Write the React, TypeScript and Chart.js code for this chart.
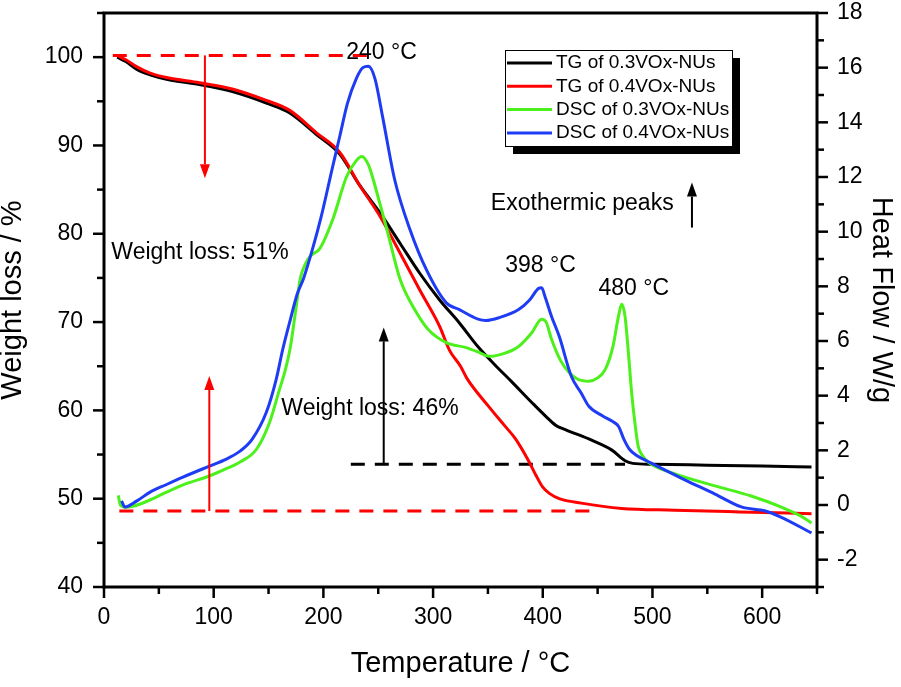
import React, { useEffect, useRef } from 'react';
import { Chart, registerables } from 'chart.js';

Chart.register(...registerables);

const FONT = "'Liberation Sans', Arial, Helvetica, sans-serif";

// ---------- series data (Temperature °C, value) ----------
const tgBlackT = [12, 20, 30, 42, 57, 87, 117, 148, 169, 194, 215, 233, 252, 270, 288, 306, 324, 341, 356, 372, 390, 403, 412, 421, 445, 463, 475, 482, 500, 550, 600, 645];
const tgBlackW = [100.0, 99.5, 98.6, 98.0, 97.5, 96.9, 96.1, 94.8, 93.7, 91.2, 89.0, 85.5, 82.3, 78.9, 75.5, 72.5, 69.9, 67.2, 65.2, 63.2, 60.9, 59.3, 58.3, 57.8, 56.6, 55.5, 54.3, 54.0, 53.9, 53.8, 53.7, 53.6];

const tgRedT = [12, 20, 30, 42, 57, 87, 117, 148, 169, 194, 215, 233, 252, 270, 288, 306, 315, 325, 331, 351, 365, 375, 387, 394, 400, 406, 415, 435, 472, 520, 580, 645];
const tgRedW = [100.2, 99.7, 98.9, 98.2, 97.7, 97.1, 96.4, 95.1, 94.0, 91.4, 89.2, 85.5, 81.9, 77.8, 73.6, 69.5, 66.8, 65.0, 63.6, 60.4, 58.3, 56.8, 54.3, 52.6, 51.3, 50.6, 50.0, 49.5, 48.9, 48.7, 48.5, 48.3];

const dscGreenT = [13, 15, 20, 26, 40, 57, 75, 96, 110, 124, 139, 151, 160, 165, 170, 175, 179, 184, 188, 197, 209, 221, 230, 235, 241, 245.5, 251, 258, 270, 285, 296, 312, 330, 341, 351, 365, 378, 390, 399, 403, 408, 416, 424, 432, 442, 450, 457, 464, 469, 472, 475, 478, 481, 484, 487, 491, 496, 520, 557, 590, 617, 635, 645];
const dscGreenH = [0.35, 0.0, -0.08, -0.05, 0.15, 0.47, 0.78, 1.06, 1.3, 1.57, 2.04, 3.03, 4.23, 4.9, 5.8, 7.2, 8.3, 8.85, 9.1, 9.4, 10.5, 12.0, 12.6, 12.75, 12.45, 11.9, 11.1, 10.07, 8.25, 7.03, 6.4, 5.94, 5.76, 5.6, 5.44, 5.55, 5.8, 6.3, 6.8, 6.7, 6.06, 5.3, 4.85, 4.6, 4.53, 4.65, 4.96, 5.8, 6.9, 7.34, 6.9, 5.6, 4.12, 3.0, 2.15, 1.8, 1.57, 1.15, 0.7, 0.33, -0.07, -0.4, -0.66];

const dscBlueT = [16, 19, 30, 42, 57, 72, 96, 110, 124, 135, 148, 157, 163, 170, 176, 182, 190, 198, 208, 215, 222, 230, 236, 241, 247, 254, 265, 279, 294, 312, 324, 341, 348, 360, 378, 388, 396, 399, 402, 408, 415, 426, 435, 442, 455, 463, 469, 474, 479, 486, 498, 528, 557, 581, 603, 617, 645];
const dscBlueH = [0.15, -0.07, 0.15, 0.47, 0.75, 1.02, 1.42, 1.65, 1.97, 2.4, 3.39, 4.6, 5.7, 6.8, 7.7, 8.3, 9.35, 10.55, 12.3, 13.5, 14.7, 15.6, 16.0, 16.05, 15.6, 14.2, 11.9, 10.07, 8.6, 7.4, 7.15, 6.8, 6.75, 6.85, 7.15, 7.5, 7.92, 7.95, 7.63, 6.9, 6.17, 4.71, 4.1, 3.61, 3.25, 3.07, 2.88, 2.4, 2.04, 1.8, 1.55, 0.95, 0.4, -0.07, -0.22, -0.44, -1.02];

const seriesLabels = ['TG of 0.3VOx-NUs', 'TG of 0.4VOx-NUs', 'DSC of 0.3VOx-NUs', 'DSC of 0.4VOx-NUs'];
const seriesColors = ['#000000', '#ff0000', '#4cf01a', '#1f3cf5'];

// ---------- dashed reference lines (left axis) ----------
const refLineT1 = [8, 245];
const refLineW1 = [100.2, 100.2];
const refLineT2 = [14, 451];
const refLineW2 = [48.6, 48.6];
const refLineT3 = [225, 475];
const refLineW3 = [53.9, 53.9];
const refLineColors = ['#ff0000', '#ff0000', '#000000'];

// ---------- arrows (left axis units) ----------
const arrowT = [92, 96, 255, 536];
const arrowFromW = [100.2, 48.6, 53.9, 80.7];
const arrowToW = [86.3, 63.9, 69.4, 85.8];
const arrowColors = ['#ff0000', '#ff0000', '#000000', '#000000'];

// ---------- text annotations (left axis units) ----------
const noteText = ['240 °C', '398 °C', '480 °C', 'Exothermic peaks', 'Weight loss: 51%', 'Weight loss: 46%'];
const noteT = [253, 398, 483, 436, 87.5, 242.5];
const noteW = [100.5, 76.35, 73.75, 83.4, 77.9, 60.2];

const toPoints = (xs: number[], ys: number[]) => xs.map((x, i) => ({ x, y: ys[i] }));

const decorPlugin = {
  id: 'decor',
  afterDatasetsDraw(chart: any) {
    const { ctx, chartArea, scales } = chart;
    const xs = scales.x;
    const yl = scales.y;
    ctx.save();

    // arrows
    arrowT.forEach((t, i) => {
      const px = xs.getPixelForValue(t);
      const p0 = yl.getPixelForValue(arrowFromW[i]);
      const p1 = yl.getPixelForValue(arrowToW[i]);
      const dir = p1 < p0 ? -1 : 1;
      const headLen = 14;
      const headHalf = 5;
      ctx.strokeStyle = arrowColors[i];
      ctx.fillStyle = arrowColors[i];
      ctx.lineWidth = 2;
      ctx.beginPath();
      ctx.moveTo(px, p0);
      ctx.lineTo(px, p1 - dir * headLen);
      ctx.stroke();
      ctx.beginPath();
      ctx.moveTo(px, p1);
      ctx.lineTo(px - headHalf, p1 - dir * headLen);
      ctx.lineTo(px + headHalf, p1 - dir * headLen);
      ctx.closePath();
      ctx.fill();
    });

    // notes
    ctx.fillStyle = '#000';
    ctx.font = `23px ${FONT}`;
    ctx.textAlign = 'center';
    ctx.textBaseline = 'middle';
    noteText.forEach((s, i) => {
      ctx.fillText(s, xs.getPixelForValue(noteT[i]), yl.getPixelForValue(noteW[i]));
    });

    // frame
    ctx.strokeStyle = '#000';
    ctx.lineWidth = 3;
    ctx.strokeRect(chartArea.left, chartArea.top, chartArea.right - chartArea.left, chartArea.bottom - chartArea.top);

    // tick marks
    ctx.lineWidth = 2.5;
    const major = 11;
    const minor = 7;
    xs.ticks.forEach((tk: any) => {
      const p = xs.getPixelForValue(tk.value);
      const len = tk.value % 100 === 0 ? major : minor;
      ctx.beginPath();
      ctx.moveTo(p, chartArea.bottom);
      ctx.lineTo(p, chartArea.bottom + len);
      ctx.stroke();
    });
    yl.ticks.forEach((tk: any) => {
      const p = yl.getPixelForValue(tk.value);
      const len = tk.value % 10 === 0 ? major : minor;
      ctx.beginPath();
      ctx.moveTo(chartArea.left, p);
      ctx.lineTo(chartArea.left - len, p);
      ctx.stroke();
    });
    const yr = scales.y2;
    yr.ticks.forEach((tk: any) => {
      const p = yr.getPixelForValue(tk.value);
      const len = Math.abs(tk.value) % 2 === 0 ? major : minor;
      ctx.beginPath();
      ctx.moveTo(chartArea.right, p);
      ctx.lineTo(chartArea.right + len, p);
      ctx.stroke();
    });

    // legend
    const bx = chartArea.left + 401;
    const by = chartArea.top + 37;
    const bw = 227;
    const bh = 96;
    ctx.fillStyle = '#000';
    ctx.fillRect(bx + 8, by + 8, bw, bh);
    ctx.fillStyle = '#fff';
    ctx.fillRect(bx, by, bw, bh);
    ctx.lineWidth = 1;
    ctx.strokeStyle = '#000';
    ctx.strokeRect(bx + 0.5, by + 0.5, bw, bh);
    ctx.font = `19px ${FONT}`;
    ctx.textAlign = 'left';
    ctx.textBaseline = 'middle';
    seriesLabels.forEach((lab, i) => {
      const ry = by + 13 + i * 23.3;
      ctx.strokeStyle = seriesColors[i];
      ctx.lineWidth = 3;
      ctx.beginPath();
      ctx.moveTo(bx + 2, ry);
      ctx.lineTo(bx + 47, ry);
      ctx.stroke();
      ctx.fillStyle = '#000';
      ctx.fillText(lab, bx + 51, ry);
    });

    ctx.restore();
  },
};

export default function App() {
  const canvasRef = useRef<HTMLCanvasElement | null>(null);

  useEffect(() => {
    if (!canvasRef.current) return;
    const seriesData = [
      { t: tgBlackT, v: tgBlackW, axis: 'y' },
      { t: tgRedT, v: tgRedW, axis: 'y' },
      { t: dscGreenT, v: dscGreenH, axis: 'y2' },
      { t: dscBlueT, v: dscBlueH, axis: 'y2' },
    ];
    const curveSets = seriesData.map((s, i) => ({
      label: seriesLabels[i],
      data: toPoints(s.t, s.v),
      yAxisID: s.axis,
      borderColor: seriesColors[i],
      borderWidth: 3,
      pointRadius: 0,
      fill: false,
      cubicInterpolationMode: 'monotone' as const,
      order: 3 - i,
    }));
    const refSets = [
      toPoints(refLineT1, refLineW1),
      toPoints(refLineT2, refLineW2),
      toPoints(refLineT3, refLineW3),
    ].map((d, i) => ({
      label: 'ref' + i,
      data: d,
      yAxisID: 'y',
      borderColor: refLineColors[i],
      borderWidth: 3,
      borderDash: [14, 10],
      pointRadius: 0,
      fill: false,
      order: 10,
    }));

    const tickFont = { family: FONT, size: 23 };
    const titleFont = { family: FONT, size: 29, lineHeight: 0.9 };
    const zeroPad = (s: any) => {
      s.paddingTop = 0;
      s.paddingBottom = 0;
      s.paddingLeft = 0;
      s.paddingRight = 0;
    };

    const chart = new Chart(canvasRef.current, {
      type: 'line',
      data: { datasets: [...curveSets, ...refSets] as any },
      plugins: [decorPlugin],
      options: {
        animation: false,
        responsive: true,
        maintainAspectRatio: false,
        layout: { padding: { top: 13, left: 0, right: 0, bottom: 0 } },
        plugins: { legend: { display: false }, tooltip: { enabled: false } },
        scales: {
          x: {
            type: 'linear',
            position: 'bottom',
            min: 0,
            max: 650,
            grid: { display: false, drawTicks: false },
            border: { display: false },
            ticks: {
              stepSize: 50,
              autoSkip: false,
              maxRotation: 0,
              padding: 17,
              color: '#000',
              font: tickFont,
              callback: (v: any) => (Number(v) % 100 === 0 ? String(v) : ''),
            },
            title: { display: true, text: 'Temperature / °C', color: '#000', font: titleFont, padding: { top: 0, bottom: 10 } },
            afterFit: (s: any) => { s.height = 100; zeroPad(s); },
          },
          y: {
            type: 'linear',
            position: 'left',
            min: 40,
            max: 105,
            grid: { display: false, drawTicks: false },
            border: { display: false },
            ticks: {
              stepSize: 5,
              autoSkip: false,
              padding: 21,
              color: '#000',
              font: tickFont,
              callback: (v: any) => (Number(v) % 10 === 0 && Number(v) <= 100 ? String(v) : ''),
            },
            title: { display: true, text: 'Weight loss / %', color: '#000', font: titleFont, padding: { top: 0, bottom: 0 } },
            afterFit: (s: any) => { s.width = 104; zeroPad(s); },
          },
          y2: {
            type: 'linear',
            position: 'right',
            min: -3,
            max: 18,
            grid: { display: false, drawTicks: false },
            border: { display: false },
            ticks: {
              stepSize: 1,
              autoSkip: false,
              padding: 20,
              color: '#000',
              font: tickFont,
              callback: (v: any) => (Math.abs(Number(v)) % 2 === 0 ? String(v) : ''),
            },
            title: { display: true, text: 'Heat Flow / W/g', color: '#000', font: titleFont, padding: { top: 7, bottom: 0 } },
            afterFit: (s: any) => { s.width = 84; zeroPad(s); },
          },
        },
      } as any,
    });
    return () => chart.destroy();
  }, []);

  return (
    <div style={{ position: 'absolute', left: 0, top: 0, width: 901, height: 687, background: '#fff' }}>
      <canvas ref={canvasRef} />
    </div>
  );
}
